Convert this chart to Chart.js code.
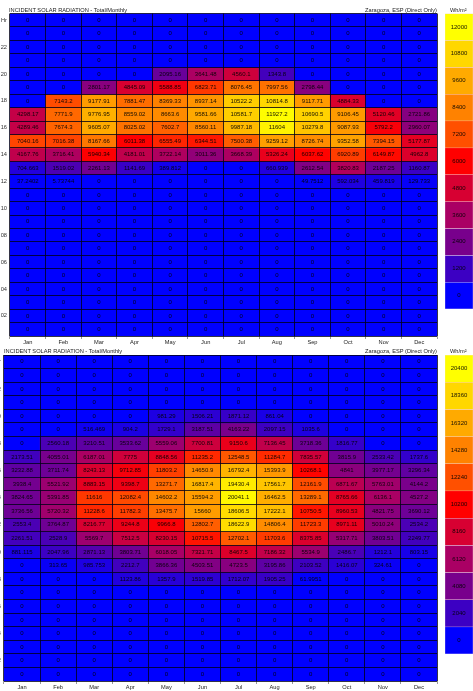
<!DOCTYPE html>
<html>
<head>
<meta charset="utf-8">
<title>Incident solar radiation</title>
<script src="https://cdn.jsdelivr.net/npm/chart.js@4/dist/chart.umd.min.js"></script>
<style>
    html, body { margin: 0; padding: 0; background: #fff; overflow: hidden; }
    #page { position: relative; width: 473px; height: 691px; }
    .panel { position: absolute; left: 0; width: 473px; }
    #topPanel { top: 0; height: 345px; filter: blur(0.35px); }
    #bottomPanel { top: 345px; height: 346px; filter: blur(0.7px); }
    canvas { position: absolute; top: 0; }
    .cap { position: absolute; font: 5.7px "Liberation Sans", Arial, sans-serif; color: #222; white-space: nowrap; line-height: 7px; }
</style>
</head>
<body>
<div id="page">
    <div class="panel" id="topPanel">
        <canvas id="topChart" width="473" height="345" style="left:0"></canvas>
        <canvas id="topScale" width="28" height="345" style="left:445px"></canvas>
        <div class="cap" style="left:9px;top:7px">INCIDENT SOLAR RADIATION - Total/Monthly</div>
        <div class="cap" style="right:36px;top:7px">Zaragoza, ESP (Direct Only)</div>
        <div class="cap" style="left:450px;top:7px">Wh/m²</div>
    </div>
    <div class="panel" id="bottomPanel">
        <canvas id="bottomChart" width="473" height="346" style="left:0"></canvas>
        <canvas id="bottomScale" width="28" height="346" style="left:445px"></canvas>
        <div class="cap" style="left:4px;top:3px">INCIDENT SOLAR RADIATION - Total/Monthly</div>
        <div class="cap" style="right:36px;top:3px">Zaragoza, ESP (Direct Only)</div>
        <div class="cap" style="left:450px;top:3px">Wh/m²</div>
    </div>
</div>
<script>
'use strict';
let months = ['Jan', 'Feb', 'Mar', 'Apr', 'May', 'Jun', 'Jul', 'Aug', 'Sep', 'Oct', 'Nov', 'Dec'];
// top row is hour 24, bottom row is hour 1
let hourLabels = ['Hr', '', '22', '', '20', '', '18', '', '16', '', '14', '', '12', '', '10', '', '08', '', '06', '', '04', '', '02', ''];
let noSun = [0, 0, 0, 0, 0, 0, 0, 0, 0, 0, 0, 0];

let topValues = [
    noSun, noSun, noSun, noSun,
    [0, 0, 0, 0, 2095.16, 3641.48, 4560.1, 1343.8, 0, 0, 0, 0],
    [0, 0, 2801.17, 4845.09, 5588.85, 6823.71, 8076.45, 7997.56, 2798.44, 0, 0, 0],
    [0, 7143.2, 9177.91, 7881.47, 8369.33, 8937.14, 10522.2, 10814.8, 9117.71, 4884.33, 0, 0],
    [4298.17, 7771.9, 9776.95, 8559.02, 8663.6, 9581.66, 10581.7, 11927.2, 10690.5, 9106.45, 5120.46, 2721.86],
    [4289.46, 7674.3, 9605.07, 8025.02, 7602.7, 8560.11, 9987.18, 11604, 10279.8, 9087.93, 5792.2, 2960.07],
    [7040.16, 7016.38, 8167.66, 6011.38, 6555.49, 6344.51, 7500.38, 9259.12, 8726.74, 9352.58, 7394.15, 5177.87],
    [4167.76, 3716.41, 5940.34, 4181.01, 3722.14, 3011.36, 3668.39, 5326.24, 6037.62, 6920.89, 6149.87, 4962.8],
    [704.663, 1519.02, 2261.13, 1141.69, 389.812, 0, 0, 660.939, 2612.54, 3820.83, 2187.25, 1160.87],
    [37.2402, 5.73744, 0, 0, 0, 0, 0, 0, 49.7512, 592.034, 459.819, 129.733],
    noSun, noSun, noSun, noSun, noSun, noSun, noSun, noSun, noSun, noSun, noSun
];

let bottomValues = [
    noSun, noSun, noSun, noSun,
    [0, 0, 0, 0, 981.29, 1506.21, 1871.12, 861.04, 0, 0, 0, 0],
    [0, 0, 516.469, 904.2, 1729.1, 3187.51, 4163.22, 2097.15, 1035.6, 0, 0, 0],
    [0, 2560.18, 3210.51, 3533.62, 5559.06, 7700.81, 9150.6, 7136.45, 3718.36, 1816.77, 0, 0],
    [2173.51, 4055.01, 6187.01, 7775, 8848.56, 11235.2, 12548.5, 11284.7, 7835.57, 3815.9, 2533.42, 1737.6],
    [3232.88, 3711.74, 8243.13, 9712.85, 11803.2, 14650.9, 16792.4, 15393.9, 10268.1, 4841, 3977.17, 3296.34],
    [3938.4, 5521.92, 8883.15, 9398.7, 13271.7, 16817.4, 19430.4, 17561.7, 12161.9, 6871.67, 5763.01, 4144.2],
    [3824.65, 5391.85, 11616, 12082.4, 14602.2, 15594.2, 20041.1, 16462.5, 13289.1, 8765.66, 6136.1, 4527.2],
    [3736.56, 5720.32, 11228.6, 11782.3, 13475.7, 15660, 18606.5, 17222.1, 10750.5, 8960.53, 4821.75, 3690.12],
    [2553.4, 3764.87, 8216.77, 9244.8, 9966.8, 12802.7, 18622.9, 14806.4, 11723.3, 8971.11, 5010.24, 2534.2],
    [2261.51, 2528.9, 5569.7, 7512.5, 8230.15, 10715.5, 12702.1, 11703.6, 8375.85, 5317.71, 3803.51, 2249.77],
    [881.115, 2047.96, 2871.13, 3803.71, 6018.05, 7321.71, 8467.5, 7186.32, 5534.9, 2486.7, 1212.1, 803.15],
    [0, 313.65, 985.753, 2212.7, 3866.36, 4503.51, 4723.5, 3195.86, 2103.52, 1416.07, 324.61, 0],
    [0, 0, 0, 1123.86, 1357.9, 1519.85, 1712.07, 1905.25, 61.9951, 0, 0, 0],
    noSun, noSun, noSun, noSun, noSun, noSun, noSun
];

let topTicks = [12000, 10800, 9600, 8400, 7200, 6000, 4800, 3600, 2400, 1200, 0];
let bottomTicks = [20400, 18360, 16320, 14280, 12240, 10200, 8160, 6120, 4080, 2040, 0];
// same order as the ticks, yellow down to blue
let ramp = [[255, 255, 0], [255, 215, 0], [255, 170, 0], [255, 130, 0], [255, 80, 0], [255, 0, 0], [215, 0, 50], [170, 0, 100], [120, 0, 140], [60, 0, 195], [0, 0, 255]];

function rampColor(value, ticks) {
    let step = ticks[0] / (ticks.length - 1);
    let pos = ticks.length - 1 - Math.min(value, ticks[0]) / step;
    let i = Math.floor(pos);
    let j = Math.min(i + 1, ramp.length - 1);
    let t = pos - i;
    let c = ramp[i].map((v, k) => Math.round(v + (ramp[j][k] - v) * t));
    return `rgb(${c[0]},${c[1]},${c[2]})`;
}

// writes the value in the middle of every cell
const cellText = {
    id: 'cellText',
    afterDatasetsDraw(chart) {
        let ctx = chart.ctx;
        ctx.save();
        ctx.font = '6px "Liberation Sans", Arial, sans-serif';
        ctx.fillStyle = 'rgba(0,0,0,0.9)';
        ctx.textAlign = 'center';
        ctx.textBaseline = 'middle';
        chart.data.datasets.forEach((ds, d) => {
            chart.getDatasetMeta(d).data.forEach((bar, i) => {
                let p = bar.getProps(['x', 'y', 'base'], true);
                ctx.fillText(ds.cellLabels[i], p.x, (p.y + p.base) / 2);
            });
        });
        ctx.restore();
    }
};

function drawHeatmap(canvasId, values, ticks, left, top, axisHeight) {
    let rows = values.length;
    let lineColor = 'rgba(0,0,24,0.8)';
    let datasets = values.map((row, r) => ({
        data: row.map(() => [rows - r - 1, rows - r]),
        cellLabels: row.map(v => String(v)),
        backgroundColor: row.map(v => rampColor(v, ticks)),
        borderWidth: 0,
        barPercentage: 1,
        categoryPercentage: 1
    }));
    new Chart(document.getElementById(canvasId), {
        type: 'bar',
        data: { labels: months, datasets: datasets },
        plugins: [cellText],
        options: {
            responsive: false,
            devicePixelRatio: 1,
            animation: false,
            layout: { padding: { top: top, right: 36, left: 0, bottom: 0 } },
            plugins: { legend: { display: false }, tooltip: { enabled: false } },
            scales: {
                x: {
                    stacked: true,
                    grid: { z: 1, color: lineColor, tickColor: '#999', tickLength: 3, offset: true },
                    border: { display: false },
                    ticks: { font: { family: '"Liberation Sans", Arial, sans-serif', size: 5.7 }, color: '#222', padding: 0, maxRotation: 0, autoSkip: false },
                    afterFit: s => { s.height = axisHeight; }
                },
                y: {
                    min: 0,
                    max: rows,
                    grid: { display: false, drawTicks: false },
                    border: { display: false },
                    afterBuildTicks: s => { s.ticks = hourLabels.map((h, r) => ({ value: rows - r - 0.5 })); },
                    ticks: {
                        font: { family: '"Liberation Sans", Arial, sans-serif', size: 5.7 },
                        color: '#333',
                        padding: 3,
                        autoSkip: false,
                        callback: v => hourLabels[rows - v - 0.5]
                    },
                    afterFit: s => { s.width = left; }
                },
                // only here for the row lines, they sit between the hour labels
                rowLines: {
                    type: 'linear',
                    axis: 'y',
                    position: 'left',
                    min: 0,
                    max: rows,
                    grid: { z: 1, color: lineColor, drawTicks: false },
                    border: { display: false },
                    afterBuildTicks: s => { s.ticks = hourLabels.map((h, r) => ({ value: r })).concat({ value: rows }); },
                    ticks: { display: false },
                    afterFit: s => { s.width = 0; }
                }
            }
        }
    });
}

function drawColourScale(canvasId, ticks, top, bottom) {
    let rows = ticks.length;
    let datasets = ticks.map((t, r) => ({
        data: [[rows - r - 1, rows - r]],
        cellLabels: [String(t)],
        backgroundColor: rampColor(t, ticks),
        borderColor: '#f4d8e4',
        borderWidth: 0.5,
        borderSkipped: false,
        barPercentage: 1,
        categoryPercentage: 1
    }));
    new Chart(document.getElementById(canvasId), {
        type: 'bar',
        data: { labels: [''], datasets: datasets },
        plugins: [cellText],
        options: {
            responsive: false,
            devicePixelRatio: 1,
            animation: false,
            layout: { padding: { top: top, bottom: bottom } },
            plugins: { legend: { display: false }, tooltip: { enabled: false } },
            scales: {
                x: { display: false, stacked: true },
                y: { display: false, min: 0, max: rows }
            }
        }
    });
}

drawHeatmap('topChart', topValues, topTicks, 10, 13.5, 9);
drawColourScale('topScale', topTicks, 13.5, 36);
drawHeatmap('bottomChart', bottomValues, bottomTicks, 4, 10, 10);
drawColourScale('bottomScale', bottomTicks, 10, 37);
</script>
</body>
</html>
